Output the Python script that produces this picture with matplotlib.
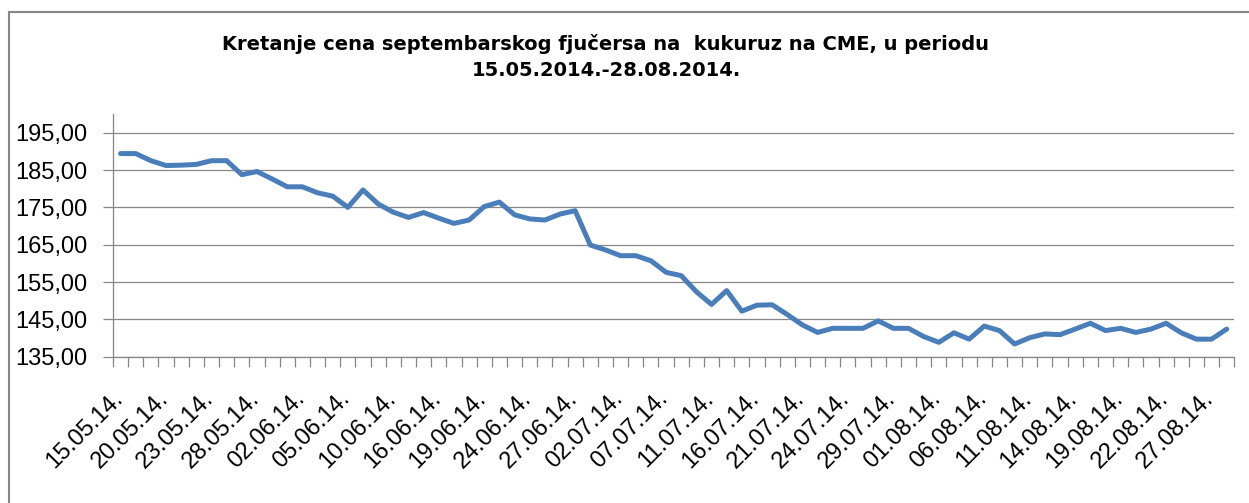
import numpy as np
import matplotlib
matplotlib.use("Agg")
import matplotlib.pyplot as plt
from matplotlib.patches import Rectangle
from matplotlib.transforms import ScaledTranslation, blended_transform_factory

# September corn futures on CME, 15.05.2014 - 28.08.2014 (74 trading days)
prices = [189.4, 189.4, 187.5, 186.2, 186.3, 186.5, 187.5, 187.5, 183.75, 184.6,
          182.6, 180.5, 180.5, 178.9, 178.0, 175.0, 179.65, 175.9, 173.7, 172.3,
          173.6, 172.1, 170.7, 171.6, 175.2, 176.4, 173.0, 171.9, 171.6, 173.2,
          174.1, 164.9, 163.6, 162.05, 162.05, 160.7, 157.6, 156.7, 152.4, 149.0,
          152.7, 147.2, 148.8, 148.9, 146.3, 143.5, 141.5, 142.6, 142.6, 142.6,
          144.6, 142.6, 142.6, 140.4, 138.85, 141.4, 139.7, 143.2, 142.0, 138.4,
          140.1, 141.1, 140.9, 142.4, 143.95, 142.0, 142.6, 141.5, 142.4, 143.95,
          141.4, 139.7, 139.7, 142.4]

# every third trading day gets a label
date_labels = ['15.05.14.', '20.05.14.', '23.05.14.', '28.05.14.', '02.06.14.',
               '05.06.14.', '10.06.14.', '16.06.14.', '19.06.14.', '24.06.14.',
               '27.06.14.', '02.07.14.', '07.07.14.', '11.07.14.', '16.07.14.',
               '21.07.14.', '24.07.14.', '29.07.14.', '01.08.14.', '06.08.14.',
               '11.08.14.', '14.08.14.', '19.08.14.', '22.08.14.', '27.08.14.']
label_step = 3

y_ticks = [135, 145, 155, 165, 175, 185, 195]

title_1 = "Kretanje cena septembarskog fjučersa na  kukuruz na CME, u periodu"
title_2 = "15.05.2014.-28.08.2014."

W, H = 1249, 503
fig = plt.figure(figsize=(W / 100, H / 100), dpi=100)
ax = fig.add_axes([113 / W, 1 - 356.7 / H, (1234.3 - 113) / W, (356.7 - 114) / H])

grey = '#868686'
x = np.arange(len(prices))
ax.plot(x, prices, color='#4A7EBB', linewidth=3.6, solid_joinstyle='round',
        solid_capstyle='round', zorder=3)

ax.set_xlim(-0.5, len(prices) - 0.5)
ax.set_ylim(135, 200)

# y axis
ax.set_yticks(y_ticks)
ax.set_yticklabels([f"{v:.2f}".replace('.', ',') for v in y_ticks],
                   fontfamily='Liberation Sans', fontsize=17)
ax.yaxis.grid(True, color=grey, linewidth=0.9)
ax.tick_params(axis='y', length=7, width=0.9, color=grey, pad=11.5, labelcolor='black')

# x axis: tick marks between categories, labels drawn separately
ax.set_xticks(np.arange(-0.5, len(prices), 1))
ax.set_xticklabels([])
ax.tick_params(axis='x', length=7.2, width=0.9, color=grey)

for s in ['top', 'right']:
    ax.spines[s].set_visible(False)
for s in ['left', 'bottom']:
    ax.spines[s].set_color(grey)
    ax.spines[s].set_linewidth(0.9)

trans = blended_transform_factory(ax.transData, ax.transAxes) + \
    ScaledTranslation(3 / 100, -43 / 100, fig.dpi_scale_trans)
for k, lab in enumerate(date_labels):
    ax.text(k * label_step, 0, lab, transform=trans, rotation=45,
            rotation_mode='anchor', ha='right', va='baseline',
            fontfamily='Liberation Sans', fontsize=17, color='black')

# titles
fig.text(606 / W, 1 - 50 / H, title_1, ha='center', va='baseline',
         fontfamily='DejaVu Sans', fontweight='bold', fontsize=14)
fig.text(606 / W, 1 - 76 / H, title_2, ha='center', va='baseline',
         fontfamily='DejaVu Sans', fontweight='bold', fontsize=14)

# chart area frame (only left and top edges visible)
fig.add_artist(Rectangle((9 / W, -0.2), 1.5, 1 - 12 / H + 0.2, transform=fig.transFigure,
                         fill=False, edgecolor=grey, linewidth=1.5))

fig.savefig('out.png', dpi=100)
